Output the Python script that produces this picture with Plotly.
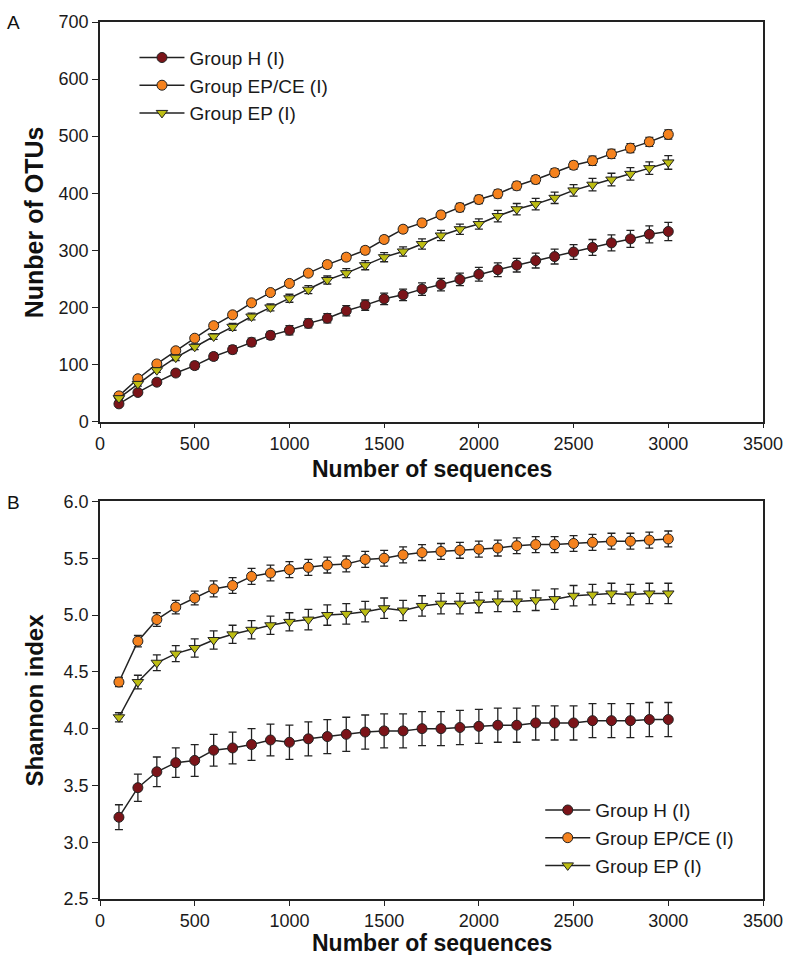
import plotly.graph_objects as go

seq = [100, 200, 300, 400, 500, 600, 700, 800, 900, 1000,
       1100, 1200, 1300, 1400, 1500, 1600, 1700, 1800, 1900, 2000,
       2100, 2200, 2300, 2400, 2500, 2600, 2700, 2800, 2900, 3000]

groups = ["Group H (I)", "Group EP/CE (I)", "Group EP (I)"]

otu_h = [31, 51, 69, 85, 98, 114, 126, 139, 151, 160, 172, 181, 194, 204, 215,
         222, 232, 240, 249, 258, 266, 274, 282, 289, 297, 305, 313, 320, 328, 333]
otu_epce = [45, 75, 101, 124, 146, 168, 187, 208, 226, 242, 260, 275, 288, 300, 319,
            337, 348, 362, 375, 389, 399, 413, 424, 436, 449, 457, 469, 479, 490, 503]
otu_ep = [41, 66, 90, 112, 131, 149, 166, 184, 200, 216, 231, 248, 260, 274, 288,
          298, 311, 326, 337, 346, 360, 372, 381, 392, 405, 415, 424, 434, 444, 454]

otu_h_err = [3, 4, 5, 5, 6, 6, 7, 7, 7, 8, 8, 8, 9, 9, 10,
             10, 11, 11, 11, 12, 12, 12, 13, 13, 13, 14, 14, 15, 15, 16]
otu_epce_err = [3, 3, 4, 4, 4, 5, 5, 5, 5, 5, 5, 6, 6, 6, 6,
                6, 6, 6, 7, 7, 7, 7, 7, 7, 7, 8, 8, 8, 8, 8]
otu_ep_err = [3, 4, 4, 5, 5, 5, 6, 6, 6, 7, 7, 7, 8, 8, 8,
              8, 9, 9, 9, 9, 10, 10, 10, 10, 10, 11, 11, 11, 11, 12]

sh_h = [3.22, 3.48, 3.62, 3.70, 3.72, 3.81, 3.83, 3.86, 3.90, 3.88, 3.91, 3.93, 3.95, 3.97, 3.98,
        3.98, 4.00, 4.00, 4.01, 4.02, 4.03, 4.03, 4.05, 4.05, 4.05, 4.07, 4.07, 4.07, 4.08, 4.08]
sh_epce = [4.41, 4.77, 4.96, 5.07, 5.15, 5.23, 5.26, 5.34, 5.37, 5.40, 5.42, 5.44, 5.45, 5.49, 5.50,
           5.53, 5.55, 5.56, 5.57, 5.58, 5.59, 5.61, 5.62, 5.62, 5.63, 5.64, 5.65, 5.65, 5.66, 5.67]
sh_ep = [4.10, 4.41, 4.58, 4.66, 4.71, 4.78, 4.83, 4.87, 4.91, 4.94, 4.96, 5.00, 5.01, 5.03, 5.06,
         5.04, 5.08, 5.10, 5.10, 5.11, 5.12, 5.12, 5.13, 5.14, 5.17, 5.18, 5.19, 5.18, 5.19, 5.19]

sh_h_err = [0.11, 0.12, 0.13, 0.13, 0.14, 0.14, 0.14, 0.14, 0.14, 0.15, 0.15, 0.15, 0.15, 0.15, 0.15,
            0.15, 0.15, 0.15, 0.15, 0.15, 0.15, 0.15, 0.15, 0.15, 0.15, 0.15, 0.15, 0.15, 0.15, 0.15]
sh_epce_err = [0.04, 0.05, 0.06, 0.06, 0.06, 0.07, 0.07, 0.07, 0.07, 0.07, 0.07, 0.07, 0.07, 0.07, 0.07,
               0.07, 0.07, 0.07, 0.07, 0.07, 0.07, 0.07, 0.07, 0.07, 0.07, 0.07, 0.07, 0.07, 0.07, 0.07]
sh_ep_err = [0.04, 0.06, 0.07, 0.07, 0.08, 0.08, 0.08, 0.08, 0.08, 0.08, 0.09, 0.09, 0.09, 0.09, 0.09,
             0.09, 0.09, 0.09, 0.09, 0.09, 0.09, 0.09, 0.09, 0.09, 0.09, 0.09, 0.09, 0.09, 0.09, 0.09]

colors = ["#7B1419", "#F5821E", "#BDBD14"]
symbols = ["circle", "circle", "triangle-down"]
INK = "#222222"
FONT = "Liberation Sans, Arial, sans-serif"

fig = go.Figure()

panelA = [(otu_h, otu_h_err), (otu_epce, otu_epce_err), (otu_ep, otu_ep_err)]
panelB = [(sh_h, sh_h_err), (sh_epce, sh_epce_err), (sh_ep, sh_ep_err)]

for i, (vals, errs) in enumerate(panelA):
    fig.add_trace(go.Scatter(
        x=seq, y=vals, name=groups[i], mode="lines+markers",
        xaxis="x", yaxis="y", legend="legend",
        line=dict(color=INK, width=1.5),
        marker=dict(color=colors[i], symbol=symbols[i], size=10,
                    line=dict(color=INK, width=1)),
        error_y=dict(type="data", array=errs, visible=True,
                     color=INK, thickness=1.3, width=4),
    ))

for i, (vals, errs) in enumerate(panelB):
    fig.add_trace(go.Scatter(
        x=seq, y=vals, name=groups[i], mode="lines+markers",
        xaxis="x2", yaxis="y2", legend="legend2",
        line=dict(color=INK, width=1.5),
        marker=dict(color=colors[i], symbol=symbols[i], size=10,
                    line=dict(color=INK, width=1)),
        error_y=dict(type="data", array=errs, visible=True,
                     color=INK, thickness=1.3, width=4),
    ))

axis_common = dict(
    showline=True, linecolor=INK, linewidth=1.5, mirror=True,
    ticks="outside", tickwidth=1.3, tickcolor=INK,
    showgrid=False, zeroline=False, ticklabeloverflow="allow",
    tickfont=dict(family=FONT, size=18, color="#1a1a1a"),
)

fig.update_layout(
    width=795, height=955,
    margin=dict(l=100, r=19, t=21, b=56),
    paper_bgcolor="white", plot_bgcolor="white",
    font=dict(family=FONT, color="#1a1a1a"),
    xaxis=dict(domain=[0, 1], anchor="y", range=[0, 3500], dtick=500, ticklen=5, **axis_common),
    yaxis=dict(domain=[0.5444, 1.0], anchor="x", range=[0, 700], dtick=100, ticklen=6, **axis_common),
    xaxis2=dict(domain=[0, 1], anchor="y2", range=[0, 3500], dtick=500, ticklen=5, **axis_common),
    yaxis2=dict(domain=[0, 0.4533], anchor="x2", range=[2.5, 6.0], dtick=0.5, ticklen=6,
                tickformat=".1f", **axis_common),
    legend=dict(x=0.052, y=0.981, xanchor="left", yanchor="top",
                bgcolor="rgba(0,0,0,0)", font=dict(family=FONT, size=19),
                itemwidth=45, tracegroupgap=0),
    legend2=dict(x=0.664, y=0.123, xanchor="left", yanchor="top",
                 bgcolor="rgba(0,0,0,0)", font=dict(family=FONT, size=19),
                 itemwidth=45, tracegroupgap=0),
    showlegend=True,
)

ann = [
    dict(text="<b>Number of sequences</b>", x=0.5, y=0.4905, font=dict(size=23)),
    dict(text="<b>Number of sequences</b>", x=0.5, y=-0.0507, font=dict(size=23)),
    dict(text="<b>Nunber of OTUs</b>", x=-0.0991, y=0.772, textangle=-90, font=dict(size=25)),
    dict(text="<b>Shannon index</b>", x=-0.0991, y=0.2267, textangle=-90, font=dict(size=24)),
    dict(text="A", x=(12 - 100) / 676, y=(899 - 22) / 878, font=dict(size=19)),
    dict(text="B", x=(12 - 100) / 676, y=(899 - 502) / 878, font=dict(size=19)),
]
for a in ann:
    fig.add_annotation(xref="paper", yref="paper", showarrow=False,
                       xanchor="center", yanchor="middle",
                       **{**a, "font": dict(family=FONT, color="#111111", **a["font"])})

# remove the default 8px page margin so the 795x955 figure fills the window exactly
fig.write_html(
    "out.html",
    config={"displayModeBar": False},
    post_script="document.body.style.margin='0';document.documentElement.style.overflow='hidden';",
)
